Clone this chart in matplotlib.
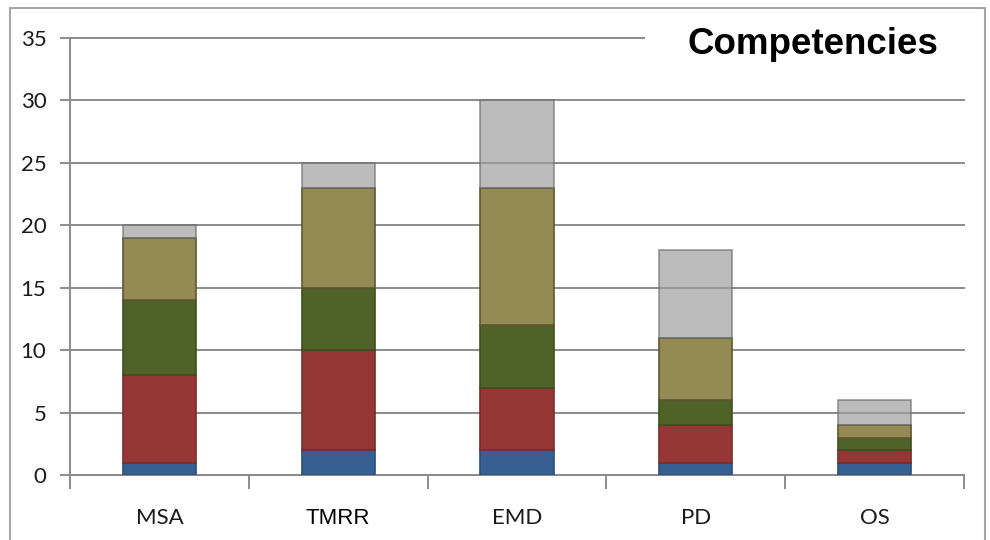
import matplotlib
matplotlib.use("Agg")
import matplotlib.pyplot as plt
import numpy as np
from matplotlib.patches import Rectangle

categories = ["MSA", "TMRR", "EMD", "PD", "OS"]
series_blue = [1, 2, 2, 1, 1]
series_red = [7, 8, 5, 3, 1]
series_green = [6, 5, 5, 2, 1]
series_olive = [5, 8, 11, 5, 1]
series_gray = [1, 2, 7, 7, 2]
y_ticks = [0, 5, 10, 15, 20, 25, 30, 35]
title = "Competencies"

layers = [
    (series_blue, "#376092", "#2c4d76", 1.0),
    (series_red, "#953735", "#7a2c2a", 1.0),
    (series_green, "#4F6228", "#3f4f20", 1.0),
    (series_olive, "#948A54", "#5e5733", 1.0),
    (series_gray, "#9c9c9c", "#6a6a6a", 0.68),
]

fig = plt.figure(figsize=(9.9, 5.4), dpi=100)
ax = fig.add_axes([70 / 990, 1 - 475 / 540, (964 - 70) / 990, (475 - 38) / 540])

x = np.arange(len(categories))
bottom = np.zeros(len(categories))
for vals, fc, ec, a in layers:
    vals = np.array(vals, dtype=float)
    ax.bar(x, vals, width=0.41, bottom=bottom, color=fc, edgecolor=ec,
           linewidth=1.2, alpha=a, zorder=3)
    bottom += vals

grid_c = "#8c8c8c"
ax.set_ylim(0, 35)
ax.set_xlim(-0.5, len(categories) - 0.5)
ax.set_yticks(y_ticks)
ax.yaxis.grid(True, color=grid_c, linewidth=1.4, zorder=1)
ax.set_axisbelow(True)
for gl in ax.get_ygridlines():
    gl.set_clip_on(False)

for s in ["top", "right"]:
    ax.spines[s].set_visible(False)
for s in ["left", "bottom"]:
    ax.spines[s].set_color(grid_c)
    ax.spines[s].set_linewidth(1.4)

ax.tick_params(axis="y", length=7, width=1.4, color=grid_c, pad=10,
               labelsize=16, labelcolor="#1a1a1a")
for lab in ax.get_yticklabels():
    lab.set_fontfamily("Lato")

ax.set_xticks(x)
ax.set_xticklabels(categories)
ax.set_xticks(np.arange(-0.5, len(categories)), minor=True)
ax.tick_params(axis="x", which="major", length=0, pad=24, labelsize=16,
               labelcolor="#1a1a1a")
ax.tick_params(axis="x", which="minor", length=10, width=1.4, color=grid_c)
for lab in ax.get_xticklabels():
    if lab.get_text() == "TMRR":
        lab.set_fontfamily("Liberation Sans")
        lab.set_fontsize(16)
        lab.set_color("black")
    else:
        lab.set_fontfamily("Lato")

# white panel behind the title, hiding the end of the top gridline
fig.patches.append(Rectangle((645 / 990, 1 - 62 / 540), 335 / 990, 40 / 540,
                             transform=fig.transFigure, facecolor="white",
                             edgecolor="none", zorder=5))
fig.text(813 / 990, 1 - 45 / 540, title, ha="center", va="center",
         fontsize=26.5, fontweight="bold", family="Liberation Sans",
         color="black", zorder=6)

# outer chart frame
fig.patches.append(Rectangle((10 / 990, -0.05), 975 / 990, 1.05 - 8 / 540,
                             transform=fig.transFigure, facecolor="none",
                             edgecolor="#a6a6a6", linewidth=1.5, zorder=4))

fig.savefig("out.png", dpi=100, facecolor="white")
